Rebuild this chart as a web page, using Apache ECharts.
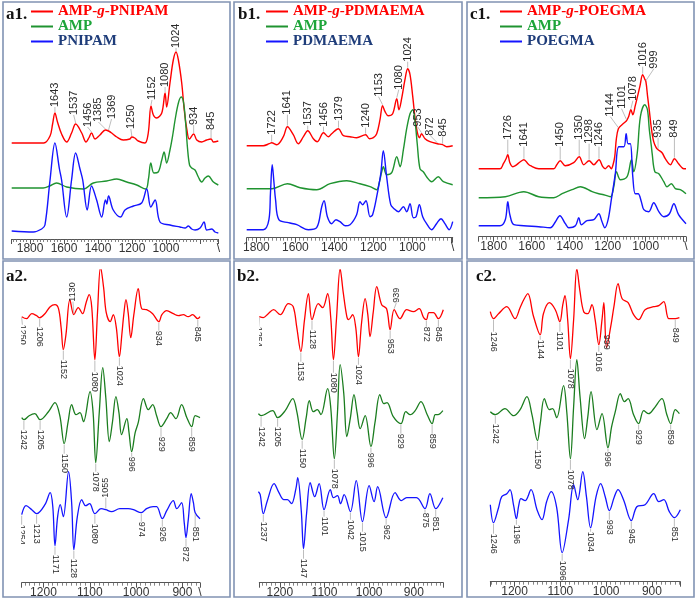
<!DOCTYPE html>
<html><head><meta charset="utf-8">
<script src="https://cdn.jsdelivr.net/npm/echarts@6/dist/echarts.min.js"></script>
<style>html,body{margin:0;padding:0;background:#fff}#c{width:697px;height:601px}</style>
</head><body><div id="c"></div>
<script>
// ===================== DATA (wavenumber cm-1, intensity a.u.) =====================
// a1 : FTIR spectra
const a1Red = [[1864,96],[1700,96],[1668,103],[1655,115],[1643,126],[1630,117],[1609,105],[1583,97],[1558,106],[1537,115],[1506,106],[1484,97],[1470,101],[1456,106],[1438,100],[1413,104],[1385,109],[1369,108],[1353,106],[1327,102],[1294,99],[1260,100],[1250,102],[1235,101],[1217,98],[1183,96],[1166,106],[1152,133],[1140,124],[1123,121],[1097,126],[1080,146],[1072,132],[1055,156],[1038,179],[1024,187],[1012,179],[995,156],[982,129],[969,110],[956,100],[934,105],[918,99],[893,97],[867,99],[845,100],[833,97],[808,98]];
const a1Green = [[1864,51],[1703,51],[1670,53],[1635,56],[1583,52],[1498,50],[1447,56],[1379,58],[1327,60],[1276,57],[1225,54],[1179,50],[1165,60],[1153,76],[1137,66],[1115,67],[1097,79],[1085,87],[1072,76],[1055,89],[1040,105],[1029,119],[1012,136],[998,142],[986,137],[975,116],[965,90],[955,74],[944,71],[927,69],[910,62],[893,57],[876,61],[859,63],[833,57],[808,54]];
const a1Blue = [[1864,8],[1754,7],[1711,10],[1694,14],[1668,59],[1643,96],[1620,70],[1609,59],[1583,22],[1558,59],[1537,86],[1515,70],[1501,59],[1478,29],[1456,53],[1430,39],[1404,22],[1385,39],[1378,35],[1369,43],[1345,29],[1307,22],[1285,29],[1242,33],[1200,36],[1174,50],[1153,32],[1131,39],[1106,17],[1055,14],[1004,12],[978,11],[961,13],[944,10],[927,9],[901,11],[881,17],[867,9],[841,10],[825,7],[808,6]];
const a1Peaks = [1643,1537,1456,1385,1369,1250,1152,1080,1024,934,845];

// b1
const b1Red = [[1850,92],[1765,92],[1734,94],[1722,95],[1696,93],[1662,101],[1641,111],[1611,103],[1585,94],[1559,101],[1537,107],[1508,99],[1488,96],[1456,105],[1431,101],[1414,104],[1379,109],[1354,102],[1320,101],[1286,100],[1240,103],[1220,99],[1200,100],[1183,104],[1166,118],[1153,132],[1140,126],[1124,122],[1101,124],[1080,139],[1069,128],[1055,139],[1038,158],[1024,169],[1012,163],[998,141],[985,118],[973,104],[963,100],[953,104],[935,99],[910,96],[872,94],[845,93],[824,91],[793,92]];
const b1Green = [[1850,49],[1720,49],[1641,54],[1576,50],[1491,48],[1422,54],[1337,57],[1269,54],[1217,51],[1183,48],[1170,55],[1157,66],[1149,71],[1132,63],[1106,65],[1080,81],[1063,71],[1046,88],[1030,108],[1012,124],[998,128],[985,114],[975,94],[961,69],[944,66],[927,61],[901,56],[867,61],[841,56],[793,53]];
const b1Blue = [[1850,8],[1765,8],[1736,18],[1728,45],[1719,73],[1710,55],[1702,38],[1685,18],[1636,15],[1593,13],[1534,8],[1491,10],[1465,31],[1453,37],[1436,21],[1414,14],[1392,18],[1371,16],[1345,12],[1320,13],[1286,23],[1269,36],[1255,33],[1238,37],[1217,21],[1204,23],[1183,41],[1162,64],[1149,87],[1132,61],[1111,33],[1094,29],[1072,26],[1046,31],[1029,26],[1012,34],[995,20],[981,21],[964,33],[947,21],[927,14],[901,8],[876,14],[853,19],[833,14],[811,8],[793,16]];
const b1Peaks = [1722,1641,1537,1456,1379,1240,1153,1080,1024,953,872,845];

// c1
const c1Red = [[1879,68],[1767,68],[1749,73],[1735,78],[1726,82],[1715,74],[1700,70],[1686,71],[1660,75],[1641,77],[1620,73],[1607,71],[1563,68],[1484,68],[1468,72],[1450,76],[1423,71],[1379,74],[1350,80],[1326,72],[1298,76],[1273,72],[1246,77],[1226,70],[1213,68],[1195,71],[1181,68],[1172,72],[1163,80],[1155,97],[1144,108],[1125,112],[1101,116],[1090,120],[1078,127],[1068,122],[1055,131],[1031,150],[1016,162],[1006,158],[999,155],[990,140],[981,126],[970,108],[958,95],[945,89],[935,87],[914,84],[897,78],[870,72],[849,78],[827,73],[800,68],[788,68]];
const c1Green = [[1879,39],[1739,40],[1642,45],[1563,40],[1484,39],[1440,43],[1388,47],[1344,50],[1282,45],[1247,43],[1221,42],[1186,40],[1168,50],[1154,65],[1133,57],[1098,60],[1075,77],[1063,65],[1045,83],[1028,120],[1005,132],[991,127],[981,107],[970,90],[966,83],[952,65],[931,63],[905,55],[888,50],[865,53],[844,48],[818,47],[788,43]];
const c1Blue = [[1879,11],[1767,11],[1739,17],[1726,35],[1715,22],[1694,12],[1642,11],[1563,10],[1502,9],[1475,15],[1452,21],[1423,13],[1405,9],[1370,11],[1352,19],[1339,12],[1309,16],[1273,17],[1247,23],[1230,15],[1215,9],[1198,17],[1181,37],[1160,63],[1142,90],[1115,90],[1103,103],[1093,93],[1081,93],[1068,60],[1055,43],[1040,43],[1023,35],[1010,27],[984,25],[958,34],[931,25],[905,20],[875,23],[852,33],[827,22],[788,13]];
const c1Peaks = [1726,1641,1450,1350,1298,1246,1144,1101,1078,1016,999,935,849];

// a2 : second derivative
const a2Red = [[1247,266],[1236,264],[1224,269],[1213,267],[1206,265],[1194,269],[1182,276],[1171,278],[1163,274],[1157,255],[1152,233],[1146,248],[1137,283],[1128,268],[1118,275],[1108,269],[1100,280],[1093,288],[1087,275],[1080,223],[1074,270],[1067,316],[1060,295],[1054,270],[1045,261],[1038,268],[1031,255],[1024,226],[1018,250],[1014,268],[1009,283],[1004,270],[998,245],[991,268],[981,294],[973,274],[962,273],[948,269],[934,261],[927,268],[916,272],[901,269],[889,267],[878,268],[867,266],[857,268],[845,264],[840,266]];
const a2Green = [[1247,165],[1242,163],[1230,167],[1217,169],[1205,163],[1186,171],[1171,180],[1160,167],[1150,139],[1141,161],[1133,178],[1123,168],[1114,170],[1106,161],[1091,191],[1084,170],[1078,120],[1070,170],[1062,215],[1055,185],[1047,141],[1040,160],[1032,186],[1025,170],[1019,148],[1007,164],[1002,150],[996,131],[988,150],[981,160],[969,184],[958,173],[948,178],[939,167],[929,156],[916,164],[907,170],[895,164],[882,178],[870,165],[859,156],[851,167],[840,165]];
const a2Blue = [[1247,68],[1237,77],[1224,73],[1213,69],[1194,78],[1182,90],[1176,76],[1171,37],[1165,66],[1159,78],[1152,66],[1140,111],[1133,80],[1128,33],[1120,66],[1110,83],[1101,77],[1092,79],[1080,69],[1066,74],[1055,73],[1042,71],[1023,74],[1004,74],[992,73],[974,70],[962,74],[947,76],[939,76],[926,64],[916,72],[901,82],[893,74],[882,80],[876,60],[872,45],[867,62],[860,89],[855,80],[851,70],[840,64]];
const a2RedMin = [1250,1206,1152,1080,1024,934,845];
const a2RedMax = [1130];
const a2GreenMin = [1242,1205,1150,1078,996,929,859];
const a2BlueMin = [1254,1213,1171,1128,1080,974,926,872,851];
const a2BlueMax = [1055];

// b2
const b2Red = [[1246,266],[1237,265],[1226,269],[1214,273],[1199,268],[1181,279],[1170,276],[1162,255],[1153,231],[1145,262],[1136,289],[1128,263],[1114,279],[1104,275],[1093,289],[1086,265],[1080,223],[1073,265],[1065,314],[1058,290],[1050,266],[1046,263],[1037,268],[1030,255],[1024,226],[1017,260],[1009,284],[1003,268],[998,246],[991,270],[983,296],[972,278],[961,274],[953,253],[944,273],[931,264],[916,273],[901,271],[888,274],[878,265],[872,263],[866,270],[856,270],[845,264],[834,273]];
const b2Green = [[1248,169],[1242,167],[1216,172],[1205,165],[1188,172],[1171,184],[1162,171],[1150,143],[1141,165],[1134,182],[1125,171],[1116,173],[1108,168],[1093,194],[1086,175],[1078,124],[1071,170],[1065,218],[1057,190],[1050,146],[1042,165],[1034,188],[1027,170],[1020,154],[1009,167],[996,136],[987,160],[976,188],[967,179],[960,180],[946,166],[929,159],[918,171],[908,168],[897,172],[884,181],[870,168],[859,159],[852,168],[846,168],[835,172]];
const b2Blue = [[1248,91],[1244,88],[1237,69],[1228,82],[1213,99],[1202,90],[1191,83],[1183,83],[1174,79],[1164,94],[1160,105],[1152,72],[1147,34],[1140,70],[1132,100],[1122,86],[1112,99],[1101,73],[1087,93],[1080,85],[1071,87],[1064,79],[1056,88],[1042,71],[1029,102],[1015,61],[1000,97],[989,81],[981,96],[962,65],[942,90],[928,82],[916,85],[894,85],[875,74],[864,89],[851,74],[835,85]];
const b2RedMin = [1254,1153,1128,1080,1024,953,872,845];
const b2RedMax = [939];
const b2GreenMin = [1242,1205,1150,1078,996,929,859];
const b2BlueMin = [1237,1147,1101,1042,1015,962,875,851];

// c2
const c2Red = [[1253,270],[1246,263],[1235,268],[1217,275],[1199,263],[1188,274],[1180,282],[1171,288],[1159,266],[1144,247],[1137,268],[1124,279],[1111,272],[1101,260],[1095,276],[1090,286],[1084,262],[1078,223],[1071,262],[1064,313],[1057,290],[1049,270],[1040,268],[1031,277],[1024,262],[1016,237],[1009,262],[1005,279],[999,234],[990,255],[983,275],[974,298],[965,283],[952,279],[940,267],[929,262],[915,272],[896,275],[885,276],[874,280],[863,263],[849,263],[840,264]];
const c2Green = [[1253,170],[1242,167],[1221,173],[1202,166],[1188,172],[1173,185],[1162,167],[1150,141],[1144,158],[1135,183],[1124,172],[1117,173],[1108,164],[1093,196],[1086,170],[1078,123],[1071,175],[1064,222],[1057,185],[1047,143],[1040,165],[1033,190],[1020,152],[1009,168],[996,134],[988,155],[980,170],[969,188],[960,180],[952,183],[940,167],[929,158],[918,171],[907,168],[896,173],[878,183],[868,168],[859,158],[849,172],[840,168]];
const c2Blue = [[1253,77],[1246,59],[1235,74],[1228,85],[1217,88],[1210,92],[1202,76],[1196,63],[1191,76],[1186,83],[1177,81],[1164,92],[1151,72],[1140,62],[1130,80],[1120,90],[1108,74],[1096,29],[1082,62],[1071,97],[1062,82],[1051,110],[1043,85],[1034,54],[1022,85],[1012,98],[1002,85],[993,71],[982,85],[974,92],[962,82],[945,61],[933,75],[915,77],[896,88],[885,80],[874,82],[862,70],[851,64],[838,72]];
const c2RedMin = [1246,1144,1101,1078,1016,999,849];
const c2GreenMin = [1242,1150,1078,996,929,859];
const c2BlueMin = [1246,1196,1096,1034,993,945,851];

const legendNames = [
  ['AMP-g-PNIPAM','AMP','PNIPAM'],
  ['AMP-g-PDMAEMA','AMP','PDMAEMA'],
  ['AMP-g-POEGMA','AMP','POEGMA']
];
const panelTitles = ['a1.','b1.','c1.','a2.','b2.','c2.'];

// ===================== LAYOUT / STYLE =====================
const RED = '#ff0000', GREEN = '#1f9330', GREEN2 = '#1b7d1f', BLUE = '#1414ff';
const GRIDS = [
  {left:11.7, top:10, width:206.6, height:229},
  {left:246.7, top:10, width:206, height:227.7},
  {left:478.7, top:10, width:207.3, height:226.7},
  {left:21.7, top:270, width:178.3, height:312.7},
  {left:259.3, top:270, width:184, height:312.7},
  {left:490.3, top:270, width:190, height:311.7}
];
const DATA_X = [[808,1864],[793,1850],[788,1879],[840,1247],[834,1246],[838,1253]];
const VIS_X  = [[692,1908],[793,1850],[788,1879],[862,1247],[834,1246],[838,1253]];
const STEP = [200,200,200,100,100,100];
const LABEL_LO = [1000,1000,1000,900,900,900];
const SLASH = [true,true,true,true,false,false];
const BORDERS = [[3,2,227,257],[234,2,228,257],[467,2,227,257],[3,261,227,336],[234,261,228,336],[467,261,227,336]];
const TITLE_POS = [[6,6],[238,6],[470,6],[6,268],[237,268],[476,268]];
const LEGEND_LEFT = [31,266,500];

// label layout (offset from curve in px, horizontal shift in px)
const a1Lift = [6,9,6,8,12,8,6,6,4,9,9], a1Dx = [0,-2,-4,-7,3,-1,1,0,0,0,0];
const b1Lift = [8,12,5,6,8,7,9,9,7,7,8,8], b1Dx = [0,0,0,0,0,0,-4,2,0,-4,-7,0];
const c1Lift = [15,13,14,17,17,13,12,12,9,8,13,12,21], c1Dx = [0,0,0,0,0,0,-8,-5,2,0,8,0,0];
const a2RedDrop = [8,9,10,12,9,9,8], a2RedDx = [2,0,0,0,0,0,0];
const a2GreenDrop = [10,10,10,9,5,10,10];
const a2BlueDrop = [10,10,9,9,10,9,8,9,14], a2BlueDx = [3,0,0,0,0,0,0,0,0];
const b2RedDrop = [10,10,10,13,8,9,7,8], b2RedDx = [3,0,0,0,0,0,0,0];
const b2GreenDrop = [11,9,9,10,6,10,10];
const b2BlueDrop = [8,10,7,8,10,7,4,8];
const c2RedDrop = [13,5,10,10,7,-13,9];
const c2GreenDrop = [9,9,11,4,6,6];
const c2BlueDrop = [11,6,8,4,9,8,9];

const TOP_FONT = '11px "Liberation Sans", Arial, sans-serif';
const BOT_FONT = '9px "Liberation Sans", Arial, sans-serif';
const AXIS_FONT = '"Liberation Sans Narrow", "Liberation Sans", Arial, sans-serif';

// ===================== BUILD =====================
function nearest(data, wn){ let b=data[0], bd=Infinity; for(const p of data){const d=Math.abs(p[0]-wn); if(d<bd){bd=d;b=p;}} return b; }
function entries(curve, wns, offs, dxs, dir, font){
  return wns.map((w,i)=>{ const p = nearest(curve, w); return {wn:w, aw:p[0], av:p[1], off:offs[i], dx:dxs?dxs[i]:0, dir, font, text:String(w)}; });
}
function labelSeries(g, ents, clip){
  return {
    type:'custom', xAxisIndex:g, yAxisIndex:g, silent:true, animation:false, clip:clip, z:6,
    data: ents.map(e=>[e.wn, e.av]),
    renderItem: function(params, api){
      const e = ents[params.dataIndex];
      const a = api.coord([e.aw, e.av]);
      const t = api.coord([e.wn, e.av]);
      const up = e.dir === 'up';
      const tx = t[0] + e.dx;
      const ty = up ? a[1] - e.off : a[1] + e.off;
      const ch = [];
      if (e.off > 2) ch.push({type:'line', shape:{x1:a[0], y1:a[1]+(up?-1:1), x2:tx, y2:ty}, style:{stroke:'#a0a0a0', lineWidth:0.7}});
      ch.push({type:'text', x:tx, y:ty, rotation: up ? Math.PI/2 : -Math.PI/2,
               style:{text:e.text, fill:'#2a2a2a', font:e.font, align:'left', verticalAlign:'middle'}});
      return {type:'group', children:ch};
    }
  };
}
function line(name, data, color, w, g){
  return {type:'line', name, data, xAxisIndex:g, yAxisIndex:g, symbol:'none', showSymbol:false, smooth:0.35,
          lineStyle:{color, width:w}, itemStyle:{color}, silent:true, animation:false, z:3};
}

const xAxis = [], yAxis = [];
GRIDS.forEach((gr,i)=>{
  xAxis.push({gridIndex:i, type:'value', inverse:true, min:DATA_X[i][0], max:DATA_X[i][1], show:false});
  yAxis.push({gridIndex:i, type:'value', min:0, max:gr.height, show:false});
});
GRIDS.forEach((gr,i)=>{
  const st = STEP[i], sl = SLASH[i], lo = LABEL_LO[i], mn = VIS_X[i][0];
  xAxis.push({gridIndex:i, type:'value', inverse:true, position:'bottom', min:VIS_X[i][0], max:VIS_X[i][1],
    minInterval:st, maxInterval:st,
    axisLine:{show:true, onZero:false, lineStyle:{color:'#555', width:1}},
    axisTick:{show:true, length:5, lineStyle:{color:'#555', width:1}},
    minorTick:{show:true, splitNumber:10, length:3, lineStyle:{color:'#666', width:0.8}},
    splitLine:{show:false}, minorSplitLine:{show:false},
    axisLabel:{show:true, showMinLabel:true, showMaxLabel:true, margin:4, color:'#333', fontSize:12,
      fontFamily:AXIS_FONT,
      formatter: v => {
        if (Math.abs(v % st) < 1e-6) return v >= lo ? String(v) : '';
        return (sl && Math.abs(v - mn) < 1e-6) ? '\\' : '';
      }}
  });
});

const series = [
  line('AMP-g-PNIPAM', a1Red, RED, 1.4, 0), line('AMP', a1Green, GREEN, 1.4, 0), line('PNIPAM', a1Blue, BLUE, 1.4, 0),
  line('AMP-g-PDMAEMA', b1Red, RED, 1.4, 1), line('AMP', b1Green, GREEN, 1.4, 1), line('PDMAEMA', b1Blue, BLUE, 1.4, 1),
  line('AMP-g-POEGMA', c1Red, RED, 1.4, 2), line('AMP', c1Green, GREEN, 1.4, 2), line('POEGMA', c1Blue, BLUE, 1.4, 2),
  line('a2 red', a2Red, RED, 1.3, 3), line('a2 green', a2Green, GREEN2, 1.3, 3), line('a2 blue', a2Blue, BLUE, 1.3, 3),
  line('b2 red', b2Red, RED, 1.3, 4), line('b2 green', b2Green, GREEN2, 1.3, 4), line('b2 blue', b2Blue, BLUE, 1.3, 4),
  line('c2 red', c2Red, RED, 1.3, 5), line('c2 green', c2Green, GREEN2, 1.3, 5), line('c2 blue', c2Blue, BLUE, 1.3, 5),
  labelSeries(0, entries(a1Red, a1Peaks, a1Lift, a1Dx, 'up', TOP_FONT), false),
  labelSeries(1, entries(b1Red, b1Peaks, b1Lift, b1Dx, 'up', TOP_FONT), false),
  labelSeries(2, entries(c1Red, c1Peaks, c1Lift, c1Dx, 'up', TOP_FONT), false),
  labelSeries(3, [].concat(
    entries(a2Red, a2RedMin, a2RedDrop, a2RedDx, 'down', BOT_FONT),
    entries(a2Red, a2RedMax, [13], null, 'up', BOT_FONT),
    entries(a2Green, a2GreenMin, a2GreenDrop, null, 'down', BOT_FONT),
    entries(a2Blue, a2BlueMin, a2BlueDrop, a2BlueDx, 'down', BOT_FONT),
    entries(a2Blue, a2BlueMax, [12], null, 'up', BOT_FONT)), true),
  labelSeries(4, [].concat(
    entries(b2Red, b2RedMin, b2RedDrop, b2RedDx, 'down', BOT_FONT),
    entries(b2Red, b2RedMax, [7], null, 'up', BOT_FONT),
    entries(b2Green, b2GreenMin, b2GreenDrop, null, 'down', BOT_FONT),
    entries(b2Blue, b2BlueMin, b2BlueDrop, null, 'down', BOT_FONT)), true),
  labelSeries(5, [].concat(
    entries(c2Red, c2RedMin, c2RedDrop, null, 'down', BOT_FONT),
    entries(c2Green, c2GreenMin, c2GreenDrop, null, 'down', BOT_FONT),
    entries(c2Blue, c2BlueMin, c2BlueDrop, null, 'down', BOT_FONT)), true)
];

const SERIF = '"Liberation Serif", "Times New Roman", serif';
const rich = {
  r:{color:RED, fontFamily:SERIF, fontWeight:'bold', fontSize:15, lineHeight:14},
  ri:{color:RED, fontFamily:SERIF, fontWeight:'bold', fontStyle:'italic', fontSize:15, lineHeight:14},
  g:{color:'#1ea53a', fontFamily:SERIF, fontWeight:'bold', fontSize:15, lineHeight:14},
  b:{color:'#1f3d7a', fontFamily:SERIF, fontWeight:'bold', fontSize:15, lineHeight:14}
};
function legendFmt(name){
  if (name.indexOf('AMP-g-') === 0) return '{r|AMP-}{ri|g}{r|' + name.slice(5) + '}';
  if (name === 'AMP') return '{g|AMP}';
  return '{b|' + name + '}';
}
const legend = legendNames.map((names,i)=>({
  left:LEGEND_LEFT[i], top:4, orient:'vertical', padding:0, itemGap:0, itemWidth:22, itemHeight:2,
  icon:'rect', selectedMode:false, data:names, formatter:legendFmt, textStyle:{rich, lineHeight:14}
}));

const title = panelTitles.map((t,i)=>({text:t, left:TITLE_POS[i][0], top:TITLE_POS[i][1], padding:0,
  textStyle:{fontFamily:SERIF, fontWeight:'bold', fontSize:17, color:'#111'}}));

const graphic = BORDERS.map(b=>({type:'rect', silent:true, z:100, shape:{x:b[0], y:b[1], width:b[2], height:b[3]},
  style:{fill:'none', stroke:'#8193b3', lineWidth:1.6}}));

const chart = echarts.init(document.getElementById('c'), null, {renderer:'canvas', width:697, height:601});
chart.setOption({
  backgroundColor:'#ffffff', animation:false,
  grid: GRIDS.map(g=>Object.assign({containLabel:false}, g)),
  xAxis, yAxis, series, legend, title, graphic
});
</script></body></html>
